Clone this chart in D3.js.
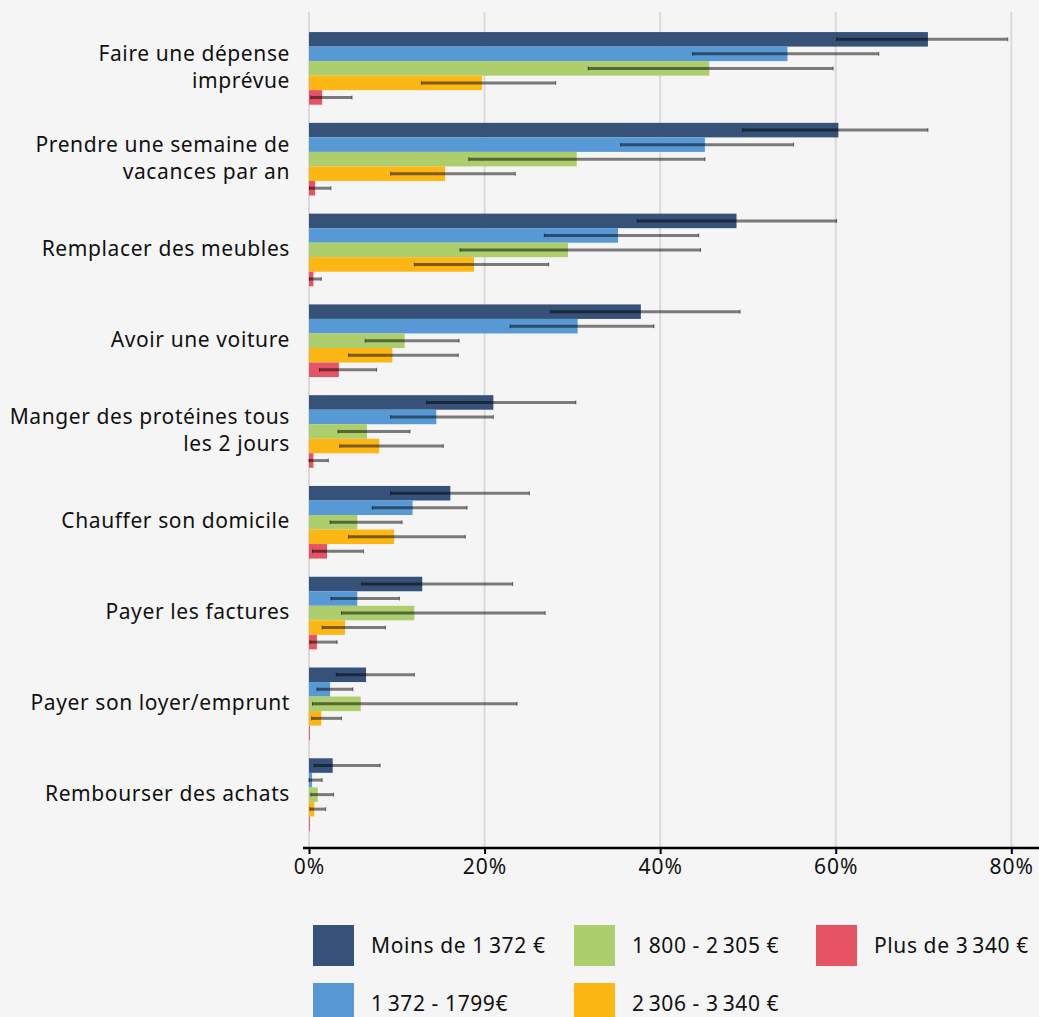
<!DOCTYPE html>
<html>
<head>
<meta charset="utf-8">
<script src="https://cdn.jsdelivr.net/npm/d3@7"></script>
<style>
  body { margin: 0; background: #f5f5f5; }
  svg { display: block; font-family: "Noto Sans", sans-serif; }
</style>
</head>
<body>
<div class="chart"></div>
<script>
var width = 1039,
  height = 1017

// categories (line breaks as in the picture)
var categories = [
  'Faire une dépense\nimprévue',
  'Prendre une semaine de\nvacances par an',
  'Remplacer des meubles',
  'Avoir une voiture',
  'Manger des protéines tous\nles 2 jours',
  'Chauffer son domicile',
  'Payer les factures',
  'Payer son loyer/emprunt',
  'Rembourser des achats'
]

var seriesNames = ['Moins de 1\u2009372 €', '1\u2009372 - 1799€', '1\u2009800 - 2\u2009305 €', '2\u2009306 - 3\u2009340 €', 'Plus de 3\u2009340 €']
var seriesColors = ['#365279', '#5799d5', '#adce6d', '#fcb714', '#e55364']

// values in %, with low / high of the error bars
var moins1372 = [70.5, 60.3, 48.7, 37.8, 21.0, 16.1, 12.9, 6.5, 2.7]
var moins1372Lo = [60.1, 49.4, 37.4, 27.5, 13.4, 9.3, 6.0, 3.1, 0.6]
var moins1372Hi = [79.6, 70.5, 60.1, 49.1, 30.4, 25.1, 23.2, 12.0, 8.1]

var r1372 = [54.5, 45.1, 35.2, 30.6, 14.5, 11.8, 5.5, 2.4, 0.35]
var r1372Lo = [43.7, 35.5, 26.8, 22.9, 9.3, 7.2, 2.5, 0.9, 0.0]
var r1372Hi = [64.9, 55.2, 44.4, 39.3, 21.0, 18.0, 10.3, 5.0, 1.5]

var r1800 = [45.6, 30.5, 29.5, 10.9, 6.6, 5.5, 12.0, 5.9, 1.0]
var r1800Lo = [31.8, 18.2, 17.2, 6.4, 3.3, 2.4, 3.7, 0.4, 0.2]
var r1800Hi = [59.7, 45.1, 44.6, 17.1, 11.5, 10.6, 26.9, 23.7, 2.8]

var r2306 = [19.7, 15.5, 18.8, 9.5, 8.0, 9.7, 4.1, 1.4, 0.6]
var r2306Lo = [12.8, 9.3, 12.0, 4.5, 3.5, 4.5, 1.5, 0.3, 0.1]
var r2306Hi = [28.1, 23.5, 27.3, 17.0, 15.3, 17.8, 8.7, 3.7, 1.9]

var plus3340 = [1.5, 0.7, 0.5, 3.4, 0.5, 2.05, 0.9, 0.1, 0.1]
var plus3340Lo = [0.2, 0.05, 0.05, 1.2, 0.0, 0.4, 0.1, null, null]
var plus3340Hi = [4.9, 2.5, 1.4, 7.7, 2.2, 6.2, 3.2, null, null]

var xTicks = [0, 20, 40, 60, 80]

var series = [
  { name: seriesNames[0], color: seriesColors[0], v: moins1372, lo: moins1372Lo, hi: moins1372Hi },
  { name: seriesNames[1], color: seriesColors[1], v: r1372, lo: r1372Lo, hi: r1372Hi },
  { name: seriesNames[2], color: seriesColors[2], v: r1800, lo: r1800Lo, hi: r1800Hi },
  { name: seriesNames[3], color: seriesColors[3], v: r2306, lo: r2306Lo, hi: r2306Hi },
  { name: seriesNames[4], color: seriesColors[4], v: plus3340, lo: plus3340Lo, hi: plus3340Hi }
]

var svg = d3.select('.chart')
  .append('svg')
  .attr('width', width)
  .attr('height', height)

svg.append('rect').attr('width', width).attr('height', height).attr('fill', '#f5f5f5')

// SCALES
var xScale = d3.scaleLinear()
  .domain([0, 80])
  .range([309, 1011.3])

var yScale = d3.scaleBand()
  .domain(categories)
  .range([23, 840])
  .paddingInner(0.2)
  .paddingOuter(0.1)

var subScale = d3.scaleBand()
  .domain(d3.range(series.length))
  .range([0, yScale.bandwidth()])

var axisY = 848

// grid
svg.append('g').selectAll('line')
  .data(xTicks)
  .enter()
  .append('line')
  .attr('x1', d => xScale(d))
  .attr('x2', d => xScale(d))
  .attr('y1', 12)
  .attr('y2', axisY)
  .attr('stroke', '#dadada')
  .attr('stroke-width', 2)

// bars
var rows = []
series.forEach(function(s, si) {
  categories.forEach(function(c, ci) {
    rows.push({ cat: c, si: si, color: s.color, v: s.v[ci], lo: s.lo[ci], hi: s.hi[ci] })
  })
})

svg.append('g').selectAll('rect')
  .data(rows)
  .enter()
  .append('rect')
  .attr('x', xScale(0))
  .attr('y', d => yScale(d.cat) + subScale(d.si))
  .attr('width', d => xScale(d.v) - xScale(0))
  .attr('height', subScale.bandwidth())
  .attr('fill', d => d.color)

// error bars
var err = svg.append('g').selectAll('g')
  .data(rows.filter(d => d.lo != null))
  .enter()
  .append('g')
  .attr('transform', d => 'translate(0,' + (yScale(d.cat) + subScale(d.si) + subScale.bandwidth() / 2) + ')')

err.append('line')
  .attr('x1', d => xScale(d.lo))
  .attr('x2', d => xScale(d.hi))
  .attr('stroke', 'rgba(0,0,0,0.5)')
  .attr('stroke-width', 3)

err.selectAll('.cap')
  .data(d => [d.lo, d.hi])
  .enter()
  .append('line')
  .attr('x1', d => xScale(d))
  .attr('x2', d => xScale(d))
  .attr('y1', -2)
  .attr('y2', 2)
  .attr('stroke', 'rgba(0,0,0,0.5)')
  .attr('stroke-width', 1)

// category labels
var labels = svg.append('g').selectAll('text')
  .data(categories)
  .enter()
  .append('text')
  .attr('text-anchor', 'end')
  .attr('font-size', 21)
  .attr('letter-spacing', 0.6)
  .attr('fill', '#111')
  .attr('y', d => yScale(d) + yScale.bandwidth() / 2)

labels.each(function(d) {
  var lines = d.split('\n')
  var t = d3.select(this)
  lines.forEach(function(l, i) {
    t.append('tspan')
      .attr('x', 290)
      .attr('dy', i == 0 ? ((-(lines.length - 1) / 2) * 27 + 6) : 27)
      .text(l)
  })
})

// x axis
svg.append('line')
  .attr('x1', 303)
  .attr('x2', width)
  .attr('y1', axisY)
  .attr('y2', axisY)
  .attr('stroke', '#000')
  .attr('stroke-width', 2.5)

var xAxis = svg.append('g')
  .attr('transform', 'translate(0,' + axisY + ')')
  .call(d3.axisBottom(xScale).tickValues(xTicks).tickFormat(d => d + '%').tickSize(6).tickPadding(5))

xAxis.select('.domain').remove()
xAxis.selectAll('line').attr('stroke', '#000').attr('stroke-width', 2)
xAxis.selectAll('text').attr('font-size', 21).attr('letter-spacing', 1).attr('fill', '#111').attr('font-family', '"Noto Sans", sans-serif')

// legend
var legend = svg.append('g').selectAll('g')
  .data(series)
  .enter()
  .append('g')
  .attr('transform', (d, i) => 'translate(' + [313, 574, 816][Math.floor(i / 2)] + ',' + (925 + (i % 2) * 58) + ')')

legend.append('rect')
  .attr('width', 41)
  .attr('height', 41)
  .attr('fill', d => d.color)

legend.append('text')
  .attr('x', 58)
  .attr('y', 21)
  .attr('dy', '0.35em')
  .attr('font-size', 21)
  .attr('letter-spacing', 0.6)
  .attr('fill', '#111')
  .text(d => d.name)
</script>
</body>
</html>
